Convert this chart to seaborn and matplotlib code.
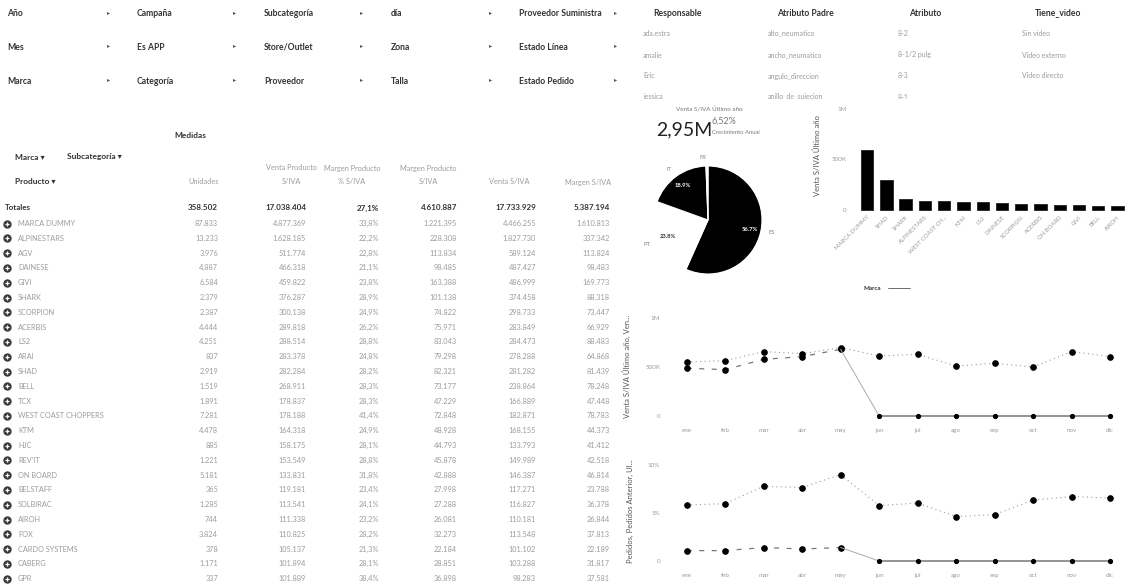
import matplotlib
matplotlib.use("Agg")
import matplotlib.pyplot as plt
import numpy as np
import pandas as pd
import seaborn as sns

sns.set_theme(style="white")
plt.rcParams['font.family'] = ['Lato', 'DejaVu Sans']

# ---------------- data ----------------
filter_rows = [
    ["Año", "Campaña", "Subcategoría", "día", "Proveedor Suministra"],
    ["Mes", "Es APP", "Store/Outlet", "Zona", "Estado Línea"],
    ["Marca", "Categoría", "Proveedor", "Talla", "Estado Pedido"],
]

attr_headers = ["Responsable", "Atributo Padre", "Atributo", "Tiene_video"]
responsables = ["ada.estra", "amalie", "Eric", "jessica"]
atributos_padre = ["alto_neumatico", "ancho_neumatico", "angulo_direccion", "anillo_de_sujecion"]
atributos = ["8-2", "8-1/2 pulg", "8-3", "8-1"]
tiene_video = ["Sin video", "Video externo", "Video directo", ""]

kpi_value = "2,95M"
kpi_growth = "6,52%"

pie_labels = ["ES", "PT", "IT", "FR"]
pie_values = [56.7, 23.8, 18.9, 0.6]

bar_brands = ["MARCA DUMMY", "SHAD", "SHARK", "ALPINESTARS", "WEST COAST CH...", "KTM", "LS2",
              "DAINESE", "SCORPION", "ACERBIS", "ON BOARD", "GIVI", "BELL", "AIROH"]
bar_values = [594000, 297000, 109000, 92000, 92000, 76000, 76000,
              66000, 62000, 56000, 46000, 46000, 40000, 40000]

months = ["ene", "feb", "mar", "abr", "may", "jun", "jul", "ago", "sep", "oct", "nov", "dic"]
venta_anterior = [551000, 565000, 657000, 636000, 698000, 612000, 629000, 510000, 538000, 500000, 657000, 606000]
venta_actual = [487000, 473000, 578000, 606000, 680000, 0, 0, 0, 0, 0, 0, 0]
pedidos_anterior = [5.83, 5.98, 7.78, 7.65, 9.0, 5.77, 6.04, 4.63, 4.83, 6.35, 6.71, 6.56]
pedidos_actual = [1.08, 1.08, 1.40, 1.25, 1.40, 0, 0, 0, 0, 0, 0, 0]

table_brands = ["MARCA DUMMY", "ALPINESTARS", "AGV", "DAINESE", "GIVI", "SHARK", "SCORPION",
                "ACERBIS", "LS2", "ARAI", "SHAD", "BELL", "TCX", "WEST COAST CHOPPERS", "KTM",
                "HJC", "REV'IT", "ON BOARD", "BELSTAFF", "SOLBIRAC", "AIROH", "FOX",
                "CARDO SYSTEMS", "CABERG", "GPR"]
unidades = [87833, 13233, 3976, 4887, 6584, 2379, 2387, 4444, 4251, 837, 2919, 1519, 1891,
            7281, 4478, 885, 1221, 5181, 365, 1285, 744, 3824, 378, 1171, 337]
venta_producto = [4877369, 1628185, 511774, 466318, 459822, 376287, 300138, 289818, 288514,
                  283378, 282284, 268911, 178837, 178188, 164318, 158175, 153549, 133831,
                  119181, 113541, 111338, 110825, 105137, 101894, 101889]
margen_pct = [33.8, 22.2, 22.8, 21.1, 23.8, 28.9, 24.9, 26.2, 28.8, 24.8, 28.2, 28.3, 28.3,
              41.4, 24.9, 28.1, 28.8, 31.8, 23.4, 24.1, 23.2, 28.2, 21.3, 28.1, 38.4]
margen_producto = [1221395, 228308, 113834, 98485, 163388, 101138, 74822, 75971, 83043, 79298,
                   82321, 73177, 47229, 72848, 48928, 44793, 45878, 42888, 27998, 27288, 26081,
                   32273, 22184, 28851, 36898]
venta_siva = [4466255, 1827730, 589124, 487427, 486999, 374458, 298733, 283849, 284473, 278288,
              281282, 238864, 166889, 182871, 168155, 133793, 149989, 146387, 117271, 116827,
              110181, 113548, 101102, 103288, 98283]
margen_siva = [1610813, 337342, 113824, 98483, 169773, 88318, 73447, 66929, 88483, 64868, 81439,
               78248, 47448, 78783, 44373, 41412, 42518, 46814, 23788, 36378, 26844, 37813,
               22189, 31817, 37581]
totales = [358502, 17038404, 27.1, 4610887, 17733929, 5387194]

# ---------------- figure ----------------
W, H = 1126, 586
fig = plt.figure(figsize=(W / 100, H / 100), dpi=100)
fig.patch.set_facecolor("white")

DARK = "#333333"
LIGHT = "#9c9c9c"


def px_axes(x0, y0, x1, y1):
    return fig.add_axes([x0 / W, 1 - y1 / H, (x1 - x0) / W, (y1 - y0) / H])


ov = fig.add_axes([0, 0, 1, 1])
ov.set_xlim(0, W)
ov.set_ylim(H, 0)
ov.axis("off")


def fmt_int(v):
    return f"{v:,}".replace(",", ".")


def fmt_pct(v):
    return f"{v:.1f}%".replace(".", ",")


# filter grid
col_x = [7, 137, 264, 391, 519]
arrow_x = [109, 235, 362, 491, 616]
row_y = [14, 47, 81]
for r, row in enumerate(filter_rows):
    for c, name in enumerate(row):
        ov.text(col_x[c], row_y[r], name, fontsize=6.2, fontweight="bold", color=DARK,
                va="center", ha="left")
        ov.text(arrow_x[c], row_y[r] - 1, "▸", fontsize=4.5, color="#555555",
                va="center", ha="center", family=["DejaVu Sans"])

# attribute table (top right), clipped at its panel edge
at = px_axes(620, 0, 1126, 99)
at.set_xlim(620, 1126)
at.set_ylim(99, 0)
at.axis("off")
head_cx = [678, 805, 925, 1058]
cell_x = [643, 768, 898, 1022]
cell_y = [33, 55, 76, 97]
for cx, h in zip(head_cx, attr_headers):
    at.text(cx, 13, h, fontsize=6.2, fontweight="bold", color=DARK, ha="center", va="center")
for ci, col in enumerate([responsables, atributos_padre, atributos, tiene_video]):
    for ri, val in enumerate(col):
        t = at.text(cell_x[ci], cell_y[ri], val, fontsize=5, color=LIGHT, ha="left", va="center")
        t.set_clip_on(True)

# KPI
ov.text(709, 110, "Venta S/IVA Último año", fontsize=4.5, color="#777777", ha="center", va="center")
ov.text(656, 130, kpi_value, fontsize=14, color="#222222", ha="left", va="center")
ov.text(712, 121, kpi_growth, fontsize=6.5, color="#777777", ha="left", va="center")
ov.text(712, 133, "Crecimiento Anual", fontsize=4.2, color="#777777", ha="left", va="center")

# left table
ov.text(190, 135, "Medidas", fontsize=6, fontweight="bold", color=DARK, ha="center", va="center")
ov.text(15, 157, "Marca ▾", fontsize=6, fontweight="bold", color=DARK, ha="left", va="center")
ov.text(67, 157, "Subcategoría ▾", fontsize=6, fontweight="bold", color=DARK, ha="left", va="center")
ov.text(15, 182, "Producto ▾", fontsize=6, fontweight="bold", color=DARK, ha="left", va="center")

col_right = [218, 306, 379, 457, 536, 610]
headers = [("Unidades", None, 204), ("Venta Producto", "S/IVA", 291),
           ("Margen Producto", "% S/IVA", 352), ("Margen Producto", "S/IVA", 428),
           ("Venta S/IVA", None, 509), ("Margen S/IVA", None, 588)]
for l1, l2, cx in headers:
    if l2 is None:
        ov.text(cx, 182, l1, fontsize=5.3, color=LIGHT, ha="center", va="center")
    else:
        ov.text(cx, 168, l1, fontsize=5.3, color=LIGHT, ha="center", va="center")
        ov.text(cx, 182, l2, fontsize=5.3, color=LIGHT, ha="center", va="center")

ov.text(5, 208, "Totales", fontsize=5.8, fontweight="bold", color=DARK, ha="left", va="center")
tot_txt = [fmt_int(totales[0]), fmt_int(totales[1]), fmt_pct(totales[2]),
           fmt_int(totales[3]), fmt_int(totales[4]), fmt_int(totales[5])]
for x, s in zip(col_right, tot_txt):
    ov.text(x, 208, s, fontsize=5.8, fontweight="bold", color=DARK, ha="right", va="center")

row0, step = 223.5, 14.8
for i, b in enumerate(table_brands):
    y = row0 + i * step
    ov.plot(7, y, marker="o", markersize=5, color="#3a3a3a", linestyle="none")
    ov.plot(7, y, marker="+", markersize=3.2, markeredgewidth=0.9, color="white", linestyle="none")
    ov.text(18, y, b, fontsize=5.3, color=LIGHT, ha="left", va="center")
    vals = [fmt_int(unidades[i]), fmt_int(venta_producto[i]), fmt_pct(margen_pct[i]),
            fmt_int(margen_producto[i]), fmt_int(venta_siva[i]), fmt_int(margen_siva[i])]
    for x, s in zip(col_right, vals):
        ov.text(x, y, s, fontsize=5.3, color=LIGHT, ha="right", va="center")

# pie
cx, cy, half = 708, 220, 67.5
ap = px_axes(cx - half, cy - half, cx + half, cy + half)
wedges, texts, autotexts = ap.pie(
    pie_values, labels=pie_labels, colors=["black", "white", "black", "white"],
    startangle=90, counterclock=False, radius=1,
    autopct=lambda p: f"{p:.1f}%" if p >= 1 else "",
    pctdistance=0.8, labeldistance=1.15,
    wedgeprops=dict(edgecolor="white", linewidth=0.8),
    textprops=dict(fontsize=4.2),
)
for w, t in zip(wedges, autotexts):
    t.set_color("white" if w.get_facecolor()[0] < 0.5 else "#333333")
    t.set_fontweight("bold")
for t in texts:
    t.set_color("#888888")
ap.set_xlim(-1.25, 1.25)
ap.set_ylim(-1.25, 1.25)
ap.set_aspect("equal")

# bar chart
ab = px_axes(855, 100, 1126, 212)
bdf = pd.DataFrame({"Marca": bar_brands, "Venta": bar_values})
sns.barplot(data=bdf, x="Marca", y="Venta", color="black", width=0.64, ax=ab,
            edgecolor="#222222", linewidth=0.6, saturation=1)
ab.set_xlim(-0.63, 13.44)
ab.set_ylim(-19800, 1089000)
ab.set_yticks([0, 500000, 1000000])
ab.set_yticklabels(["0", "500K", "1M"])
ab.set_xlabel("")
ab.set_ylabel("Venta S/IVA Último año", fontsize=5.5, color="#555555", labelpad=8)
ab.tick_params(axis="y", labelsize=4.5, colors=LIGHT, length=0, pad=6)
ab.tick_params(axis="x", labelsize=4.3, colors=LIGHT, length=0, pad=2)
for lab in ab.get_xticklabels():
    lab.set_rotation(45)
    lab.set_ha("right")
    lab.set_rotation_mode("anchor")
for s in ab.spines.values():
    s.set_visible(False)
ab.patch.set_alpha(0)
ov.text(863, 288, "Marca", fontsize=4.5, fontweight="bold", color=DARK, ha="left", va="center")
ov.plot([888, 910], [288, 288], color="#555555", linewidth=0.6)

# line charts
xpos = np.arange(len(months))


def style_line_axes(ax, ylabel, ylim, yticks, yticklabels):
    ax.set_xlim(-0.564, 11.31)
    ax.set_ylim(*ylim)
    ax.set_xticks(xpos)
    ax.set_xticklabels(months)
    ax.set_yticks(yticks)
    ax.set_yticklabels(yticklabels)
    ax.set_xlabel("")
    ax.set_ylabel(ylabel, fontsize=5.5, color="#555555", labelpad=10)
    ax.tick_params(axis="both", labelsize=4.5, colors=LIGHT, length=0)
    ax.tick_params(axis="x", pad=6)
    for s in ax.spines.values():
        s.set_visible(False)
    ax.patch.set_alpha(0)
    if ax.get_legend():
        ax.get_legend().remove()


def draw_series(ax, prev, cur, last_active):
    sns.lineplot(x=xpos, y=prev, ax=ax, color="#9a9a9a", linewidth=0.8, linestyle=(0, (1, 3)),
                 marker="o", markersize=4, markerfacecolor="black", markeredgecolor="black")
    n = last_active + 1
    sns.lineplot(x=xpos[:n], y=cur[:n], ax=ax, color="#777777", linewidth=0.9,
                 linestyle=(0, (4, 6)), marker="o", markersize=4,
                 markerfacecolor="black", markeredgecolor="black")
    sns.lineplot(x=xpos[n - 1:n + 1], y=cur[n - 1:n + 1], ax=ax, color="#aaaaaa", linewidth=0.7)
    sns.lineplot(x=xpos[n:], y=cur[n:], ax=ax, color="#8a8a8a", linewidth=1.3,
                 marker="o", markersize=3, markerfacecolor="black", markeredgecolor="black")


a1 = px_axes(665, 312, 1122, 420)
draw_series(a1, np.array(venta_anterior), np.array(venta_actual), 4)
style_line_axes(a1, "Venta S/IVA Último año, Ven...", (-40800, 1061000),
                [0, 500000, 1000000], ["0", "500K", "1M"])

a2 = px_axes(665, 458, 1122, 565)
draw_series(a2, np.array(pedidos_anterior), np.array(pedidos_actual), 4)
style_line_axes(a2, "Pedidos, Pedidos Anterior, Ul...", (-0.42, 10.73),
                [0, 5, 10], ["0", "5%", "10%"])

fig.savefig("out.png", dpi=100, facecolor="white")
